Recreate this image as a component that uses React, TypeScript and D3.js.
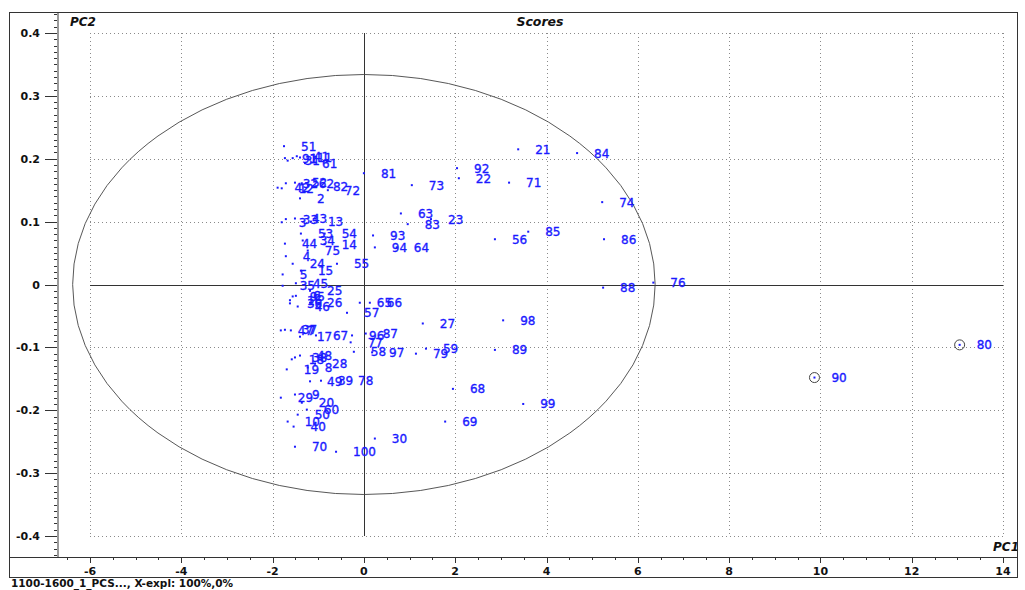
import React from 'react';
import * as d3 from 'd3';

// sample numbers and their PCA scores (PC1, PC2)
const sampleIds = [
  1, 2, 3, 4, 5, 6, 7, 8, 9, 10, 11, 12, 13, 14, 15, 16, 17, 18, 19, 20,
  21, 22, 23, 24, 25, 26, 27, 28, 29, 30, 31, 32, 33, 34, 35, 36, 37, 38, 39, 40,
  41, 42, 43, 44, 45, 46, 47, 48, 49, 50, 51, 52, 53, 54, 55, 56, 57, 58, 59, 60,
  61, 62, 63, 64, 65, 66, 67, 68, 69, 70, 71, 72, 73, 74, 75, 76, 77, 78, 79, 80,
  81, 82, 83, 84, 85, 86, 87, 88, 89, 90, 91, 92, 93, 94, 95, 96, 97, 98, 99, 100,
];
const pc1Scores = [
  -1.56, -1.4, -1.8, -1.71, -1.78, -1.49, -1.6, -1.23, -1.51, -1.67,
  -1.4, -1.8, -1.16, -0.86, -1.38, -1.62, -1.4, -1.58, -1.69, -1.36,
  3.38, 2.08, 1.47, -1.56, -1.18, -1.18, 1.29, -1.07, -1.82, 0.24,
  -1.67, -1.71, -1.71, -1.34, -1.78, -1.62, -1.73, -1.51, -0.94, -1.54,
  -1.47, -1.89, -1.51, -1.73, -1.49, -1.45, -1.82, -1.4, -1.18, -1.45,
  -1.75, -1.51, -1.38, -0.86, -0.59, 2.87, -0.37, -0.22, 1.36, -1.25,
  -1.29, -1.36, 0.81, 0.72, -0.09, 0.13, -1.05, 1.95, 1.78, -1.51,
  3.18, -0.79, 1.05, 5.22, -1.23, 6.34, -0.29, -0.5, 1.14, 13.05,
  0.0, -1.05, 0.96, 4.67, 3.6, 5.26, 0.04, 5.24, 2.87, 9.87,
  -1.73, 2.04, 0.2, 0.24, -1.56, -0.26, 0.18, 3.05, 3.49, -0.61,
];
const pc2Scores = [
  0.201, 0.137, 0.099, 0.045, 0.016, -0.018, -0.073, -0.132, -0.175, -0.218,
  0.202, 0.153, 0.1, 0.064, 0.022, -0.025, -0.083, -0.119, -0.135, -0.188,
  0.215, 0.169, 0.104, 0.033, -0.01, -0.029, -0.062, -0.126, -0.18, -0.245,
  0.197, 0.161, 0.104, 0.07, -0.002, -0.03, -0.072, -0.116, -0.153, -0.226,
  0.204, 0.154, 0.105, 0.065, 0.002, -0.035, -0.073, -0.113, -0.154, -0.207,
  0.22, 0.162, 0.081, 0.081, 0.033, 0.072, -0.045, -0.107, -0.102, -0.199,
  0.193, 0.161, 0.113, 0.059, -0.029, -0.029, -0.081, -0.166, -0.218, -0.258,
  0.162, 0.15, 0.158, 0.131, 0.054, 0.003, -0.092, -0.153, -0.11, -0.096,
  0.177, 0.156, 0.096, 0.209, 0.084, 0.072, -0.078, -0.005, -0.104, -0.148,
  0.201, 0.185, 0.078, 0.059, -0.019, -0.081, -0.108, -0.057, -0.19, -0.266,
];
const outlierIds = [80, 90];
// Hotelling ellipse half-axes (PC1, PC2)
const ellipseRadii = [6.38, 0.334];
const xTicks = [-6, -4, -2, 0, 2, 4, 6, 8, 10, 12, 14];
const yTicks = [-0.4, -0.3, -0.2, -0.1, 0, 0.1, 0.2, 0.3, 0.4];
const yTickLabels = ['-0.4', '-0.3', '-0.2', '-0.1', '0', '0.1', '0.2', '0.3', '0.4'];
const footerText = '1100-1600_1_PCS..., X-expl: 100%,0%';

const font = "'DejaVu Sans', Verdana, sans-serif";
const blue = '#1a1aff';

export default function App() {
  const width = 1025;
  const height = 590;
  const frame = { left: 9, right: 1017, top: 12, axisY: 557, bottom: 577 };
  const yAxisX = 58;

  const x = d3.scaleLinear().domain([-6, 14]).range([90, 1003]);
  const y = d3.scaleLinear().domain([-0.4, 0.4]).range([536, 33]);

  const minorY = d3.range(-43, 44).map(d => d / 100);
  const minorX = d3.range(-13, 29).map(d => d / 2);

  const points = sampleIds.map((id, i) => ({ id, pc1: pc1Scores[i], pc2: pc2Scores[i] }));

  return (
    <div style={{ position: 'fixed', left: 0, top: 0 }}>
      <svg width={width} height={height} style={{ display: 'block', background: '#fff' }}>

        {/* grid */}
        <g stroke='#8a8a8a' strokeDasharray='1,3' strokeWidth={1}>
          {xTicks.filter(d => d !== 0).map(d => (
            <line key={'gx' + d} x1={Math.round(x(d)) + 0.5} x2={Math.round(x(d)) + 0.5} y1={y(0.4)} y2={y(-0.4)} />
          ))}
          {yTicks.filter(d => d !== 0).map(d => (
            <line key={'gy' + d} x1={x(-6)} x2={x(14)} y1={Math.round(y(d)) + 0.5} y2={Math.round(y(d)) + 0.5} />
          ))}
        </g>

        {/* zero lines */}
        <line x1={Math.round(x(0)) + 0.5} x2={Math.round(x(0)) + 0.5} y1={y(0.4)} y2={y(-0.4)} stroke='#333' />
        <line x1={x(-6)} x2={x(14)} y1={Math.round(y(0)) + 0.5} y2={Math.round(y(0)) + 0.5} stroke='#333' />

        {/* ellipse */}
        <ellipse
          cx={x(0)}
          cy={y(0)}
          rx={x(ellipseRadii[0]) - x(0)}
          ry={y(0) - y(ellipseRadii[1])}
          fill='none'
          stroke='#444'
          strokeWidth={0.9}
        />

        {/* outlier markers */}
        {points.filter(p => outlierIds.includes(p.id)).map(p => (
          <circle key={'o' + p.id} cx={x(p.pc1)} cy={y(p.pc2)} r={5} fill='none' stroke='#444' strokeWidth={1} />
        ))}

        {/* points + labels */}
        <g>
          {points.map(p => (
            <rect key={'p' + p.id} x={x(p.pc1) - 1} y={y(p.pc2) - 1} width={2} height={2} fill={blue} />
          ))}
        </g>
        <g fontFamily={font} fontSize={12} fill={blue} stroke={blue} strokeWidth={0.35}>
          {points.map(p => (
            <text key={'t' + p.id} x={x(p.pc1) + 17} y={y(p.pc2) + 4.5}>{p.id}</text>
          ))}
        </g>

        {/* titles */}
        <text x={70} y={26} fontFamily={font} fontSize={12} fontWeight='bold' fontStyle='italic' fill='#111'>PC2</text>
        <text x={540} y={26} fontFamily={font} fontSize={12.5} fontWeight='bold' fontStyle='italic' fill='#111' textAnchor='middle'>Scores</text>
        <text x={1019} y={551} fontFamily={font} fontSize={12} fontWeight='bold' fontStyle='italic' fill='#111' textAnchor='end'>PC1</text>

        {/* y axis */}
        <g stroke='#333'>
          {minorY.map(d => (
            <line key={'my' + d} x1={yAxisX - 4} x2={yAxisX} y1={Math.round(y(d)) + 0.5} y2={Math.round(y(d)) + 0.5} />
          ))}
          {yTicks.map(d => (
            <line key={'ty' + d} x1={yAxisX - 13} x2={yAxisX} y1={Math.round(y(d)) + 0.5} y2={Math.round(y(d)) + 0.5} />
          ))}
        </g>
        <line x1={yAxisX} x2={yAxisX} y1={frame.top} y2={frame.axisY} stroke='#9a9a9a' strokeWidth={2} />
        <g fontFamily={font} fontSize={11} fontWeight='bold' fill='#111' textAnchor='end'>
          {yTicks.map((d, i) => (
            <text key={'ly' + d} x={40} y={y(d) + 4}>{yTickLabels[i]}</text>
          ))}
        </g>

        {/* x axis */}
        <g stroke='#333'>
          {minorX.map(d => (
            <line key={'mx' + d} x1={Math.round(x(d)) + 0.5} x2={Math.round(x(d)) + 0.5} y1={frame.axisY} y2={frame.axisY + 3} />
          ))}
          {xTicks.map(d => (
            <line key={'tx' + d} x1={Math.round(x(d)) + 0.5} x2={Math.round(x(d)) + 0.5} y1={frame.axisY} y2={frame.axisY + 6} />
          ))}
        </g>
        <g fontFamily={font} fontSize={11} fontWeight='bold' fill='#111' textAnchor='middle'>
          {xTicks.map(d => (
            <text key={'lx' + d} x={x(d)} y={frame.axisY + 18}>{d}</text>
          ))}
        </g>

        {/* frame */}
        <line x1={frame.left} x2={frame.right} y1={frame.axisY + 0.5} y2={frame.axisY + 0.5} stroke='#333' />
        <rect
          x={frame.left + 0.5}
          y={frame.top + 0.5}
          width={frame.right - frame.left}
          height={frame.bottom - frame.top}
          fill='none'
          stroke='#333'
        />
        <text x={11} y={587} fontFamily={font} fontSize={10.5} fontWeight='bold' fill='#111'>{footerText}</text>
      </svg>
    </div>
  );
}
